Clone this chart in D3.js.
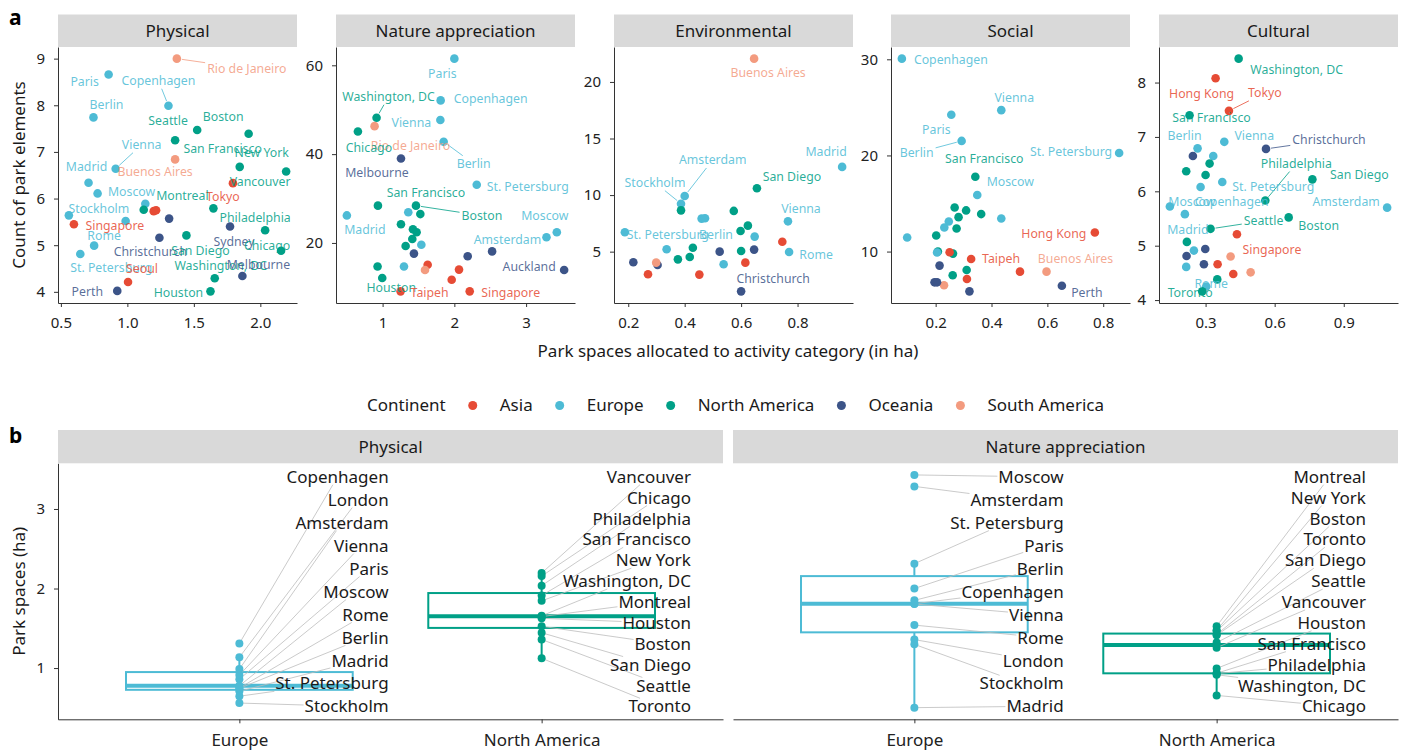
<!DOCTYPE html>
<html>
<head>
<meta charset="utf-8">
<script src="https://cdn.jsdelivr.net/npm/d3@7"></script>
<style>
  body { margin: 0; background: #fff; }
  svg text { font-family: "Noto Sans", "Open Sans", sans-serif; }
</style>
</head>
<body>
<svg id="chart" width="1402" height="752"></svg>
<script>
// ---------------- data ----------------
const continents = ["Asia", "Europe", "North America", "Oceania", "South America"];
const palette = ["#E64B35", "#4DBBD5", "#00A087", "#3C5488", "#F39B7F"];

const asiaCities = ["Hong Kong", "Seoul", "Singapore", "Taipeh", "Tokyo"];
const europeCities = ["Amsterdam", "Berlin", "Copenhagen", "London", "Madrid", "Moscow", "Paris", "Rome", "St. Petersburg", "Stockholm", "Vienna"];
const northAmericaCities = ["Boston", "Chicago", "Houston", "Montreal", "New York", "Philadelphia", "San Diego", "San Francisco", "Seattle", "Toronto", "Vancouver", "Washington, DC"];
const oceaniaCities = ["Auckland", "Christchurch", "Melbourne", "Perth", "Sydney"];
const southAmericaCities = ["Buenos Aires", "Rio de Janeiro"];

const categories = ["Physical", "Nature appreciation", "Environmental", "Social", "Cultural"];

// [city, park space allocated (ha), count of park elements]
const physical = [
  ["Rio de Janeiro", 1.372, 9.00], ["Paris", 0.859, 8.66], ["Copenhagen", 1.309, 7.99],
  ["Berlin", 0.745, 7.74], ["Seattle", 1.359, 7.25], ["Boston", 1.525, 7.47],
  ["San Francisco", 1.912, 7.39], ["New York", 1.845, 6.68], ["Vancouver", 2.194, 6.58],
  ["Buenos Aires", 1.359, 6.84], ["Vienna", 0.912, 6.64], ["Madrid", 0.708, 6.34],
  ["Moscow", 0.776, 6.11], ["Tokyo", 1.794, 6.33], ["London", 1.135, 5.89],
  ["Toronto", 1.123, 5.76], ["Hong Kong", 1.198, 5.73], ["Taipeh", 1.216, 5.75],
  ["Montreal", 1.647, 5.79], ["Stockholm", 0.560, 5.64], ["Auckland", 1.314, 5.57],
  ["Amsterdam", 0.987, 5.52], ["Singapore", 0.598, 5.45], ["Sydney", 1.772, 5.40],
  ["Philadelphia", 2.036, 5.32], ["San Diego", 1.444, 5.21], ["Christchurch", 1.241, 5.16],
  ["Rome", 0.750, 4.99], ["Chicago", 2.156, 4.88], ["St. Petersburg", 0.646, 4.81],
  ["Melbourne", 1.865, 4.34], ["Washington, DC", 1.657, 4.29], ["Seoul", 1.005, 4.21],
  ["Perth", 0.924, 4.02], ["Houston", 1.625, 4.01]
];
const nature = [
  ["Paris", 2.000, 61.5], ["Copenhagen", 1.809, 52.1], ["Washington, DC", 0.916, 48.2],
  ["Vienna", 1.805, 47.7], ["Rio de Janeiro", 0.888, 46.3], ["Chicago", 0.656, 45.1],
  ["Berlin", 1.851, 42.8], ["Melbourne", 1.256, 39.0], ["St. Petersburg", 2.312, 33.1],
  ["San Francisco", 0.935, 28.4], ["Boston", 1.465, 28.4], ["Madrid", 0.502, 26.2],
  ["London", 1.358, 26.9], ["Montreal", 1.526, 26.5], ["Vancouver", 1.256, 24.2],
  ["Toronto", 1.423, 23.1], ["New York", 1.474, 22.4], ["San Diego", 1.414, 20.9],
  ["Seattle", 1.321, 19.3], ["Moscow", 3.428, 22.4], ["Amsterdam", 3.284, 21.3],
  ["Rome", 1.540, 19.6], ["Sydney", 1.437, 17.6], ["Perth", 2.186, 17.0],
  ["Christchurch", 2.526, 18.1], ["Auckland", 3.530, 13.9], ["Philadelphia", 0.930, 14.7],
  ["Stockholm", 1.298, 14.7], ["Houston", 0.995, 12.1], ["Hong Kong", 1.628, 15.1],
  ["Tokyo", 2.065, 14.0], ["Seoul", 1.963, 11.7], ["Taipeh", 1.251, 9.1],
  ["Singapore", 2.214, 9.1], ["Buenos Aires", 1.591, 13.9]
];
const environmental = [
  ["Buenos Aires", 0.646, 22.06], ["Madrid", 0.958, 12.49], ["San Diego", 0.656, 10.60],
  ["Amsterdam", 0.400, 9.92], ["Stockholm", 0.387, 9.24], ["Toronto", 0.387, 8.65],
  ["London", 0.460, 7.92], ["Berlin", 0.472, 7.95], ["Seattle", 0.574, 8.60],
  ["Montreal", 0.598, 6.83], ["Boston", 0.624, 7.30], ["Vancouver", 0.600, 5.06],
  ["Chicago", 0.429, 5.35], ["New York", 0.418, 4.53], ["Houston", 0.376, 4.32],
  ["Vienna", 0.766, 7.68], ["Rome", 0.770, 4.97], ["Paris", 0.648, 6.33],
  ["Copenhagen", 0.538, 3.88], ["St. Petersburg", 0.188, 6.71], ["Moscow", 0.336, 5.21],
  ["Tokyo", 0.746, 5.88], ["Seoul", 0.615, 4.03], ["Hong Kong", 0.452, 2.97],
  ["Singapore", 0.270, 3.00], ["Perth", 0.218, 4.06], ["Sydney", 0.304, 3.82],
  ["Melbourne", 0.524, 5.00], ["Auckland", 0.646, 5.18], ["Christchurch", 0.600, 1.49],
  ["Rio de Janeiro", 0.299, 4.03]
];
const social = [
  ["Copenhagen", 0.079, 30.07], ["Vienna", 0.435, 24.71], ["Paris", 0.256, 24.23],
  ["Berlin", 0.293, 21.51], ["St. Petersburg", 0.857, 20.26], ["San Francisco", 0.342, 17.79],
  ["Moscow", 0.349, 15.88], ["Boston", 0.268, 14.59], ["Seattle", 0.309, 14.28],
  ["New York", 0.282, 13.58], ["Montreal", 0.363, 13.90], ["Vancouver", 0.275, 12.40],
  ["Toronto", 0.202, 11.67], ["Chicago", 0.262, 9.79], ["Houston", 0.261, 7.53],
  ["San Diego", 0.311, 8.09], ["Philadelphia", 0.208, 10.00], ["London", 0.435, 13.44],
  ["Amsterdam", 0.247, 13.13], ["Rome", 0.231, 12.50], ["Madrid", 0.098, 11.46],
  ["Stockholm", 0.205, 9.90], ["Hong Kong", 0.770, 11.98], ["Tokyo", 0.250, 9.93],
  ["Taipeh", 0.327, 9.23], ["Seoul", 0.502, 7.91], ["Singapore", 0.312, 7.15],
  ["Buenos Aires", 0.597, 7.91], ["Rio de Janeiro", 0.230, 6.49], ["Perth", 0.652, 6.45],
  ["Sydney", 0.214, 8.54], ["Melbourne", 0.196, 6.80], ["Auckland", 0.205, 6.80],
  ["Christchurch", 0.321, 5.86]
];
const cultural = [
  ["Washington, DC", 0.4435, 8.44], ["Hong Kong", 0.3435, 8.08], ["Tokyo", 0.4014, 7.48],
  ["San Francisco", 0.2304, 7.40], ["Berlin", 0.2652, 6.79], ["Vienna", 0.3812, 6.91],
  ["Christchurch", 0.5623, 6.78], ["Sydney", 0.2449, 6.65], ["Paris", 0.3333, 6.65],
  ["New York", 0.3174, 6.51], ["Chicago", 0.2159, 6.37], ["Montreal", 0.3000, 6.30],
  ["St. Petersburg", 0.3725, 6.17], ["Copenhagen", 0.2783, 6.08], ["Philadelphia", 0.5594, 5.83],
  ["San Diego", 0.7638, 6.22], ["Moscow", 0.1449, 5.72], ["Amsterdam", 1.0884, 5.70],
  ["Madrid", 0.2101, 5.58], ["Seattle", 0.3217, 5.31], ["Boston", 0.6609, 5.52],
  ["Singapore", 0.4362, 5.21], ["Vancouver", 0.2188, 5.07], ["London", 0.2493, 4.91],
  ["Perth", 0.2986, 4.94], ["Melbourne", 0.2174, 4.81], ["Stockholm", 0.2159, 4.61],
  ["Auckland", 0.2928, 4.66], ["Rio de Janeiro", 0.4087, 4.80], ["Buenos Aires", 0.4957, 4.51],
  ["Seoul", 0.3522, 4.66], ["Taipeh", 0.4203, 4.48], ["Houston", 0.3507, 4.38],
  ["Rome", 0.3029, 4.25], ["Toronto", 0.2855, 4.16]
];

// tick labels
const physicalXTicks = ["0.5", "1.0", "1.5", "2.0"];
const physicalYTicks = ["4", "5", "6", "7", "8", "9"];
const natureXTicks = ["1", "2", "3"];
const natureYTicks = ["20", "40", "60"];
const environmentalXTicks = ["0.2", "0.4", "0.6", "0.8"];
const environmentalYTicks = ["5", "10", "15", "20"];
const socialXTicks = ["0.2", "0.4", "0.6", "0.8"];
const socialYTicks = ["10", "20", "30"];
const culturalXTicks = ["0.3", "0.6", "0.9"];
const culturalYTicks = ["4", "5", "6", "7", "8"];
const boxGroups = ["Europe", "North America"];
const boxYTicks = ["1", "2", "3"];

// ---------------- label placement (pixel offsets of the label centre from its point) ----------------
const physicalLabels = [
  ["Rio de Janeiro", 70, 10, 1], ["Paris", -24, 7, 0], ["Copenhagen", -10, -25, 1], ["Berlin", 13, -13, 0],
  ["Seattle", -7, -20, 0], ["Boston", 26, -13, 0], ["San Francisco", -26, 15, 0], ["New York", 22, -14, 0],
  ["Vienna", 26, -24, 1], ["Madrid", -2, -16, 0], ["Buenos Aires", -20, 12, 0], ["Vancouver", -26, 10, 0],
  ["Tokyo", -10, 13, 0], ["Moscow", 34, -2, 0], ["Montreal", -31, -13, 0], ["Stockholm", 30, -7, 0],
  ["Philadelphia", -10, -13, 0], ["Singapore", 41, 1, 0], ["Rome", 10, -10, 0], ["Sydney", 4, 15, 0],
  ["Chicago", -14, -5, 0], ["Christchurch", -9, 14, 0], ["San Diego", 14, 15, 0], ["Washington, DC", 6, -13, 0],
  ["Melbourne", 16, -11, 0], ["St. Petersburg", 31, 14, 0], ["Seoul", 14, -13, 0], ["Perth", -30, 1, 0],
  ["Houston", -32, 1, 0]
];
const natureLabels = [
  ["Paris", -12, 15, 0], ["Copenhagen", 50, -2, 0], ["Washington, DC", 12, -21, 1], ["Vienna", -29, 3, 0],
  ["Rio de Janeiro", 36, 19, 0], ["Chicago", 11, 16, 0], ["Berlin", 30, 22, 1], ["Melbourne", -24, 14, 0],
  ["St. Petersburg", 51, 2, 0], ["San Francisco", 48, -13, 0], ["Boston", 66, 10, 1], ["Moscow", -12, -17, 0],
  ["Amsterdam", -39, 2, 0], ["Madrid", 18, 14, 0], ["Auckland", -35, -3, 0], ["Houston", 9, 10, 0],
  ["Taipeh", 29, 1, 0], ["Singapore", 41, 1, 0]
];
const environmentalLabels = [
  ["Buenos Aires", 14, 14, 0], ["Madrid", -16, -15, 0], ["San Diego", 35, -12, 0], ["Amsterdam", 28, -36, 1],
  ["Stockholm", -26, -21, 1], ["Vienna", 13, -13, 0], ["Rome", 27, 3, 0], ["St. Petersburg", 43, 2, 0],
  ["Berlin", 11, 16, 0], ["Christchurch", 32, -13, 0]
];
const socialLabels = [
  ["Copenhagen", 49, 1, 0], ["Vienna", 13, -13, 0], ["Paris", -15, 15, 0], ["Berlin", -45, 12, 1],
  ["San Francisco", 9, -18, 0], ["St. Petersburg", -48, -1, 0], ["Moscow", 33, -13, 0], ["Hong Kong", -41, 1, 0],
  ["Taipeh", 30, 0, 0], ["Buenos Aires", 29, -13, 0], ["Perth", 25, 7, 0]
];
const culturalLabels = [
  ["Washington, DC", 58, 11, 0], ["Hong Kong", -14, 15, 0], ["Tokyo", 36, -18, 1], ["San Francisco", 22, 2, 0],
  ["Berlin", -13, -13, 0], ["Vienna", 30, -6, 0], ["Christchurch", 63, -9, 1], ["Philadelphia", 31, -37, 1],
  ["San Diego", 47, -5, 0], ["St. Petersburg", 51, 5, 0], ["Moscow", 22, -5, 0], ["Copenhagen", 31, 15, 0],
  ["Amsterdam", -41, -6, 0], ["Madrid", 3, 15, 0], ["Seattle", 53, -8, 1], ["Boston", 30, 8, 0],
  ["Singapore", 35, 15, 0], ["Rome", 5, -3, 0], ["Toronto", -12, 1, 0]
];

// ---------------- helpers ----------------
const svg = d3.select("#chart");
const TEXT = "#1a1a1a", AXIS = "#333333", STRIP = "#d9d9d9";

const continentOf = new Map();
[asiaCities, europeCities, northAmericaCities, oceaniaCities, southAmericaCities]
  .forEach((list, i) => list.forEach(c => continentOf.set(c, continents[i])));
const colour = d3.scaleOrdinal().domain(continents).range(palette);
const cityColour = c => colour(continentOf.get(c));

// ggplot-style 5% expansion of a continuous range
function expand(ext) { const r = ext[1] - ext[0]; return [ext[0] - 0.05 * r, ext[1] + 0.05 * r]; }

// point where the segment (px,py)->(cx,cy) enters the box centred on (cx,cy)
function boxEntry(px, py, cx, cy, hw, hh) {
  const dx = px - cx, dy = py - cy;
  const t = Math.min(dx !== 0 ? hw / Math.abs(dx) : Infinity, dy !== 0 ? hh / Math.abs(dy) : Infinity);
  if (t >= 1) return null;
  return [cx + dx * t, cy + dy * t];
}

function styleAxis(g, size) {
  g.select(".domain").attr("stroke", AXIS).attr("stroke-width", 1);
  g.selectAll(".tick line").attr("stroke", AXIS).attr("stroke-width", 1);
  g.selectAll(".tick text").attr("fill", "#222").attr("font-size", size)
    .attr("font-family", "'Noto Sans', sans-serif");
}

function strip(x0, y0, w, h, label) {
  svg.append("rect").attr("x", x0).attr("y", y0).attr("width", w).attr("height", h).attr("fill", STRIP);
  svg.append("text").attr("x", x0 + w / 2).attr("y", y0 + h / 2 + 6).attr("text-anchor", "middle")
    .attr("font-size", 17).attr("fill", TEXT).text(label);
}

// ---------------- panel a: scatter facets ----------------
const topLeft = [58, 336, 614, 891, 1159];
const topWidth = 239;
const topStrip = [14.5, 47], topBottom = 303;

const topPanels = [
  { data: physical, labels: physicalLabels, xt: physicalXTicks, yt: physicalYTicks },
  { data: nature, labels: natureLabels, xt: natureXTicks, yt: natureYTicks },
  { data: environmental, labels: environmentalLabels, xt: environmentalXTicks, yt: environmentalYTicks },
  { data: social, labels: socialLabels, xt: socialXTicks, yt: socialYTicks },
  { data: cultural, labels: culturalLabels, xt: culturalXTicks, yt: culturalYTicks }
];

topPanels.forEach((p, i) => {
  const x0 = topLeft[i], x1 = x0 + topWidth;
  const x = d3.scaleLinear().domain(expand(d3.extent(p.data, d => d[1]))).range([x0, x1]);
  const y = d3.scaleLinear().domain(expand(d3.extent(p.data, d => d[2]))).range([topBottom, topStrip[1]]);

  strip(x0, topStrip[0], topWidth, topStrip[1] - topStrip[0], categories[i]);

  const xa = svg.append("g").attr("transform", `translate(0,${topBottom})`)
    .call(d3.axisBottom(x).tickValues(p.xt.map(Number)).tickFormat((d, k) => p.xt[k])
      .tickSize(4).tickSizeOuter(0).tickPadding(10.5));
  styleAxis(xa, 15);
  const ya = svg.append("g").attr("transform", `translate(${x0},0)`)
    .call(d3.axisLeft(y).tickValues(p.yt.map(Number)).tickFormat((d, k) => p.yt[k])
      .tickSize(4).tickSizeOuter(0).tickPadding(9));
  styleAxis(ya, 15);

  const g = svg.append("g");
  g.selectAll("circle").data(p.data).join("circle")
    .attr("cx", d => x(d[1])).attr("cy", d => y(d[2])).attr("r", 4.3)
    .attr("fill", d => cityColour(d[0]));

  const byCity = new Map(p.data.map(d => [d[0], d]));
  const lg = svg.append("g");
  p.labels.forEach(([city, dx, dy, seg]) => {
    const d = byCity.get(city);
    if (!d) return;
    const px = x(d[1]), py = y(d[2]);
    const cx = px + dx, cy = py + dy;
    const col = cityColour(city);
    const t = lg.append("text").attr("x", cx).attr("y", cy).attr("dy", "0.36em")
      .attr("text-anchor", "middle").attr("font-size", 12.3).attr("fill", col)
      .attr("fill-opacity", 0.85).text(city);
    if (seg) {
      const w = t.node().getComputedTextLength();
      const end = boxEntry(px, py, cx, cy, w / 2 + 2, 8);
      if (end) {
        const len = Math.hypot(end[0] - px, end[1] - py);
        const sx = px + (end[0] - px) / len * 5, sy = py + (end[1] - py) / len * 5;
        lg.insert("line", "text").attr("x1", sx).attr("y1", sy).attr("x2", end[0]).attr("y2", end[1])
          .attr("stroke", col).attr("stroke-width", 0.8);
      }
    }
  });
});

// shared titles for panel a
svg.append("text").attr("transform", `translate(25,${(topStrip[1] + topBottom) / 2}) rotate(-90)`)
  .attr("text-anchor", "middle").attr("font-size", 17).attr("fill", TEXT).text("Count of park elements");
svg.append("text").attr("x", 728).attr("y", 357).attr("text-anchor", "middle")
  .attr("font-size", 17).attr("fill", TEXT).text("Park spaces allocated to activity category (in ha)");

// legend
{
  const lg = svg.append("g");
  const gap = 27;
  let cx = 0;
  const title = lg.append("text").attr("x", 0).attr("y", 0).attr("font-size", 17).attr("fill", TEXT).text("Continent");
  cx = title.node().getComputedTextLength() + gap;
  continents.forEach((c, i) => {
    lg.append("circle").attr("cx", cx).attr("cy", -5.5).attr("r", 4.5).attr("fill", palette[i]);
    const t = lg.append("text").attr("x", cx + gap).attr("y", 0).attr("font-size", 17).attr("fill", TEXT).text(c);
    cx = cx + gap + t.node().getComputedTextLength() + gap;
  });
  const total = cx - gap;
  lg.attr("transform", `translate(${735.5 - total / 2},411)`);
}

// ---------------- panel b: box plots of park space per continent ----------------
const boxLeft = [58, 733], boxWidth = 665;
const boxStrip = [430, 463.3], boxBottom = 719.3;
const boxFacets = [physical, nature];

const allBoxValues = [];
boxFacets.forEach(f => f.forEach(d => { if (boxGroups.includes(continentOf.get(d[0]))) allBoxValues.push(d[1]); }));
const yb = d3.scaleLinear().domain(expand(d3.extent(allBoxValues))).range([boxBottom, boxStrip[1]]);

boxFacets.forEach((facet, i) => {
  const x0 = boxLeft[i], x1 = x0 + boxWidth;
  const xb = d3.scalePoint().domain(boxGroups).range([x0, x1]).padding(0.6);
  const step = xb.step();

  strip(x0, boxStrip[0], boxWidth, boxStrip[1] - boxStrip[0], categories[i]);

  const xa = svg.append("g").attr("transform", `translate(0,${boxBottom})`)
    .call(d3.axisBottom(xb).tickSize(4).tickSizeOuter(0).tickPadding(10.5));
  styleAxis(xa, 17);
  if (i === 0) {
    const ya = svg.append("g").attr("transform", `translate(${x0},0)`)
      .call(d3.axisLeft(yb).tickValues(boxYTicks.map(Number)).tickFormat((d, k) => boxYTicks[k])
        .tickSize(4).tickSizeOuter(0).tickPadding(9));
    styleAxis(ya, 15);
  }

  boxGroups.forEach(group => {
    const rows = facet.filter(d => continentOf.get(d[0]) === group);
    const vals = rows.map(d => d[1]).sort(d3.ascending);
    const q1 = d3.quantile(vals, 0.25), med = d3.quantile(vals, 0.5), q3 = d3.quantile(vals, 0.75);
    const iqr = q3 - q1;
    const lo = d3.min(vals.filter(v => v >= q1 - 1.5 * iqr));
    const hi = d3.max(vals.filter(v => v <= q3 + 1.5 * iqr));
    const cx = xb(group), bw = step * 0.75;
    const col = colour(group);
    const g = svg.append("g");

    g.append("line").attr("x1", cx).attr("x2", cx).attr("y1", yb(q3)).attr("y2", yb(hi))
      .attr("stroke", col).attr("stroke-width", 2);
    g.append("line").attr("x1", cx).attr("x2", cx).attr("y1", yb(q1)).attr("y2", yb(lo))
      .attr("stroke", col).attr("stroke-width", 2);
    g.append("rect").attr("x", cx - bw / 2).attr("width", bw)
      .attr("y", yb(q3)).attr("height", yb(q1) - yb(q3))
      .attr("fill", "#fff").attr("stroke", col).attr("stroke-width", 2);
    g.append("line").attr("x1", cx - bw / 2).attr("x2", cx + bw / 2).attr("y1", yb(med)).attr("y2", yb(med))
      .attr("stroke", col).attr("stroke-width", 4);

    // labels stacked down the right-hand side, highest value first
    const sorted = rows.slice().sort((a, b) => b[1] - a[1]);
    const yTop = boxStrip[1] + 13.4, yBot = boxBottom - 13;
    const right = cx + step * 0.494;
    const segs = svg.append("g"), pts = svg.append("g"), labs = svg.append("g");
    sorted.forEach((d, k) => {
      const ly = sorted.length > 1 ? yTop + k * (yBot - yTop) / (sorted.length - 1) : yTop;
      const t = labs.append("text").attr("x", right).attr("y", ly).attr("dy", "0.36em")
        .attr("text-anchor", "end").attr("font-size", 17).attr("fill", TEXT).text(d[0]);
      const w = t.node().getComputedTextLength();
      const lcx = right - w / 2;
      const px = cx, py = yb(d[1]);
      const end = boxEntry(px, py, lcx, ly, w / 2 + 1, 8);
      if (end) {
        segs.append("line").attr("x1", px).attr("y1", py).attr("x2", end[0]).attr("y2", end[1])
          .attr("stroke", "#bdbdbd").attr("stroke-width", 0.8);
      }
    });
    pts.selectAll("circle").data(rows).join("circle")
      .attr("cx", cx).attr("cy", d => yb(d[1])).attr("r", 4).attr("fill", col);
  });
});

svg.append("text").attr("transform", `translate(25,${(boxStrip[1] + boxBottom) / 2}) rotate(-90)`)
  .attr("text-anchor", "middle").attr("font-size", 17).attr("fill", TEXT).text("Park spaces (ha)");

// panel letters
svg.append("text").attr("x", 9).attr("y", 25).attr("font-size", 21).attr("font-weight", "bold").attr("fill", "#000").text("a");
svg.append("text").attr("x", 9).attr("y", 443).attr("font-size", 21).attr("font-weight", "bold").attr("fill", "#000").text("b");
</script>
</body>
</html>
